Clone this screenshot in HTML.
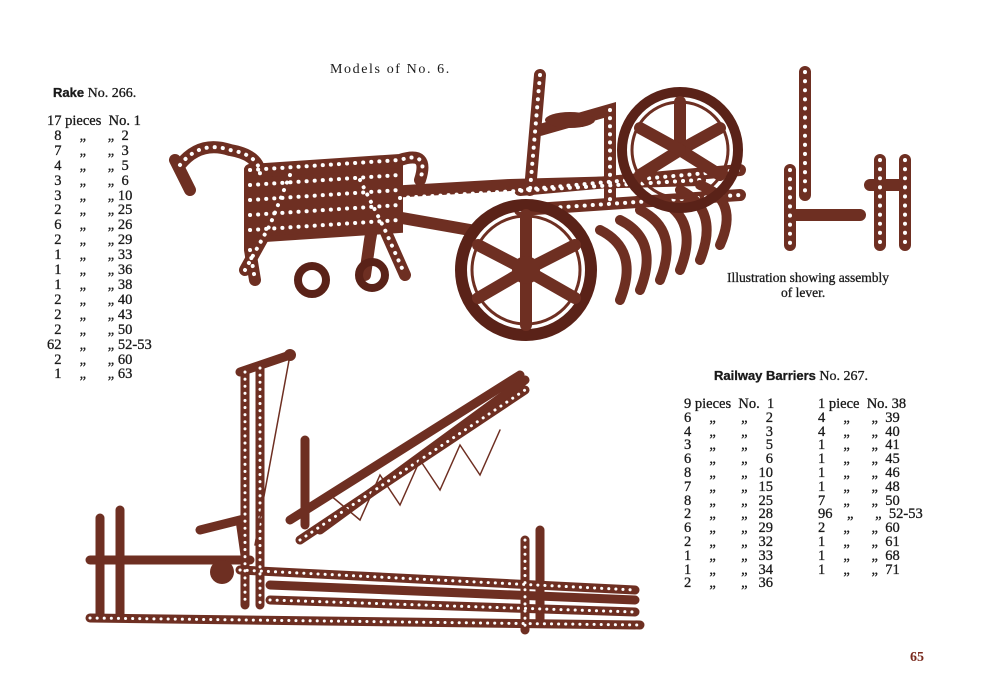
<!DOCTYPE html>
<html><head><meta charset="utf-8"><style>
body{margin:0;background:#fff;width:1000px;height:700px;overflow:hidden;position:relative;font-family:"Liberation Serif",serif;color:#1a1a1a}
.t{position:absolute;white-space:pre;font-size:14.5px;line-height:14.9px;-webkit-text-stroke:0.3px #1a1a1a}
svg{position:absolute;left:0;top:0}
</style></head><body>
<svg width="1000" height="700" viewBox="0 0 1000 700">
<g stroke-linecap="round" fill="none">
<!-- RAKE -->
<g stroke="#6e2f22" stroke-width="12">
<path d="M180 165 Q200 140 230 150 Q260 155 260 175"/>
<path d="M175 160 L190 190"/>
<path d="M250 170 L400 160 Q430 150 420 180"/>
<path d="M250 170 L250 250 L255 280"/>
<path d="M290 175 L270 225 L245 270"/>
<path d="M360 180 L385 230 L405 275"/>
<path d="M380 185 L370 240 L365 275"/>
<path d="M250 200 L510 185 L700 180"/>
<path d="M540 75 L530 190"/>
<path d="M540 130 L610 110 L610 200"/>
<path d="M300 200 L470 230"/>
<path d="M520 190 L740 170"/>
<path d="M520 210 L740 195"/>
</g>
<path d="M250 175 L400 165 L400 230 L250 240 Z" fill="#6e2f22" stroke="#6e2f22" stroke-width="6"/>
<g stroke="#fff" stroke-width="4" stroke-dasharray="0.1 8">
<path d="M180 165 Q200 140 230 150 Q260 155 260 175"/>
<path d="M250 170 L400 160 Q430 150 420 180"/>
<path d="M250 185 L400 175"/><path d="M250 200 L400 190"/><path d="M250 215 L400 205"/><path d="M250 230 L400 220"/>
<path d="M250 250 L255 280"/>
<path d="M290 175 L270 225 L245 270"/>
<path d="M360 180 L385 230 L405 275"/>
<path d="M400 198 L700 180"/>
<path d="M540 75 L530 190"/>
<path d="M610 110 L610 200"/>
<path d="M520 190 L740 170"/><path d="M520 210 L740 195"/>
</g>
<g stroke="#6e2f22" stroke-width="10">
<path d="M600 230 Q640 250 620 300"/><path d="M620 220 Q660 240 640 290"/><path d="M640 210 Q680 230 660 280"/>
<path d="M660 200 Q700 220 680 270"/><path d="M680 190 Q720 210 700 260"/><path d="M700 185 Q740 200 720 245"/>
</g>
<circle cx="680" cy="150" r="58" stroke="#5a2218" stroke-width="10"/>
<circle cx="680" cy="150" r="48" stroke="#6e2f22" stroke-width="3"/>
<circle cx="526" cy="270" r="65" stroke="#5a2218" stroke-width="12"/>
<circle cx="526" cy="270" r="54" stroke="#6e2f22" stroke-width="3"/>
<g stroke="#6e2f22" stroke-width="12">
<path d="M526 270 L526 215"/><path d="M526 270 L575 245"/><path d="M526 270 L575 298"/><path d="M526 270 L526 325"/><path d="M526 270 L478 298"/><path d="M526 270 L478 245"/>
<path d="M680 150 L680 102"/><path d="M680 150 L720 128"/><path d="M680 150 L720 175"/><path d="M680 150 L640 175"/><path d="M680 150 L640 128"/>
</g>
<circle cx="526" cy="270" r="14" fill="#6e2f22" stroke="none"/>
<circle cx="312" cy="280" r="14" stroke="#5a2218" stroke-width="8"/>
<circle cx="372" cy="275" r="13" stroke="#5a2218" stroke-width="8"/>
<ellipse cx="570" cy="120" rx="25" ry="8" fill="#6e2f22" stroke="none"/>
<!-- LEVER -->
<g stroke="#6e2f22" stroke-width="12">
<path d="M805 72 L805 195"/><path d="M790 170 L790 245"/><path d="M790 215 L860 215"/><path d="M880 160 L880 245"/><path d="M905 160 L905 245"/><path d="M870 185 L905 185"/>
</g>
<g stroke="#fff" stroke-width="4" stroke-dasharray="0.1 9">
<path d="M805 72 L805 195"/><path d="M790 170 L790 245"/><path d="M880 160 L880 245"/><path d="M905 160 L905 245"/>
</g>
<!-- BARRIER -->
<g stroke="#6e2f22" stroke-width="9">
<path d="M245 372 L245 605"/><path d="M260 368 L260 605"/><path d="M240 372 L290 355"/>
<path d="M290 520 L520 375"/><path d="M300 540 L525 390"/><path d="M320 530 L525 380"/>
<path d="M90 618 L640 625"/><path d="M240 570 L635 590"/><path d="M270 585 L635 600"/><path d="M270 600 L635 612"/>
<path d="M90 560 L250 560"/><path d="M100 518 L100 618"/><path d="M120 510 L120 618"/><path d="M525 540 L525 630"/><path d="M540 530 L540 620"/>
<path d="M200 530 L240 520 L245 555"/><path d="M305 440 L305 525"/>
</g>
<g stroke="#fff" stroke-width="3" stroke-dasharray="0.1 7">
<path d="M245 372 L245 605"/><path d="M260 368 L260 605"/><path d="M300 540 L525 390"/><path d="M90 618 L640 625"/><path d="M240 570 L635 590"/><path d="M270 600 L635 612"/><path d="M525 540 L525 630"/>
</g>
<path d="M330 495 L360 520 L380 475 L400 505 L420 460 L440 490 L460 445 L480 475 L500 430" stroke="#6e2f22" stroke-width="1.5"/>
<path d="M290 355 L255 545" stroke="#6e2f22" stroke-width="1.5"/>
<circle cx="290" cy="355" r="6" fill="#6e2f22" stroke="none"/>
<circle cx="222" cy="572" r="12" fill="#6e2f22" stroke="none"/>
</g>
</svg>
<div class="t" style="left:330px;top:63px;font-size:14px;letter-spacing:1.6px;-webkit-text-stroke:0">Models of No. 6.</div>
<div class="t" style="left:53px;top:86px;font-size:14px"><b style="font-family:'Liberation Sans',sans-serif;font-size:13px">Rake</b> No. 266.</div>
<div class="t" style="left:47px;top:114px">17 pieces  No. 1
  8     „      „  2
  7     „      „  3
  4     „      „  5
  3     „      „  6
  3     „      „ 10
  2     „      „ 25
  6     „      „ 26
  2     „      „ 29
  1     „      „ 33
  1     „      „ 36
  1     „      „ 38
  2     „      „ 40
  2     „      „ 43
  2     „      „ 50
62     „      „ 52-53
  2     „      „ 60
  1     „      „ 63</div>
<div class="t" style="left:727px;top:270px;line-height:15px;font-size:13.5px">Illustration showing assembly
                of lever.</div>
<div class="t" style="left:714px;top:369px;font-size:14px"><b style="font-family:'Liberation Sans',sans-serif;font-size:13px">Railway Barriers</b> No. 267.</div>
<div class="t" style="left:684px;top:398px;line-height:13.8px">9 pieces  No.  1
6     „       „     2
4     „       „     3
3     „       „     5
6     „       „     6
8     „       „   10
7     „       „   15
8     „       „   25
2     „       „   28
6     „       „   29
2     „       „   32
1     „       „   33
1     „       „   34
2     „       „   36</div>
<div class="t" style="left:818px;top:398px;line-height:13.8px">1 piece  No. 38
4     „      „  39
4     „      „  40
1     „      „  41
1     „      „  45
1     „      „  46
1     „      „  48
7     „      „  50
96    „      „  52-53
2     „      „  60
1     „      „  61
1     „      „  68
1     „      „  71</div>
<div class="t" style="left:910px;top:651px;font-size:14px;font-weight:bold;color:#7a2a1e;-webkit-text-stroke:0">65</div>
</body></html>
